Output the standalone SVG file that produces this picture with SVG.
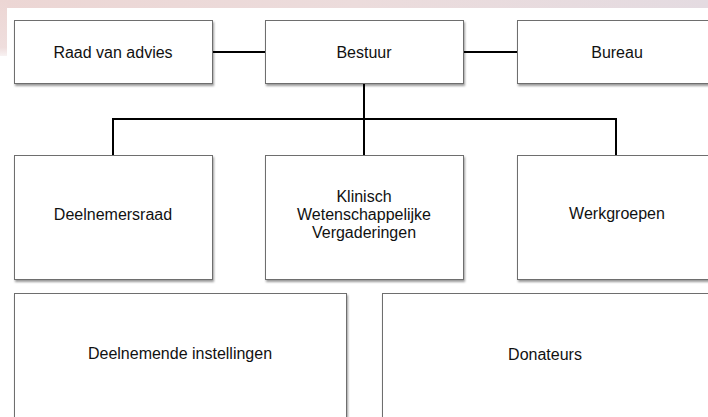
<svg xmlns="http://www.w3.org/2000/svg" width="708" height="417" viewBox="0 0 708 417">
<defs>
<linearGradient id="bg" x1="0" y1="0" x2="1" y2="0">
<stop offset="0" stop-color="#ecd6d4"/>
<stop offset="0.5" stop-color="#ecdcdc"/>
<stop offset="1" stop-color="#e4dbe1"/>
</linearGradient>
<linearGradient id="side" x1="0" y1="0" x2="0" y2="1">
<stop offset="0" stop-color="#ecd6d4"/>
<stop offset="0.85" stop-color="#efdedd"/>
<stop offset="1" stop-color="#f8f2f2"/>
</linearGradient>
<filter id="sh" x="-5%" y="-5%" width="110%" height="115%">
<feDropShadow dx="1" dy="2" stdDeviation="0.8" flood-color="#000" flood-opacity="0.4"/>
</filter>
</defs>
<style>
.box{fill:#fff;stroke:#6e6e6e;stroke-width:1;filter:url(#sh)}
.t{font-family:"Liberation Sans",Arial,sans-serif;font-size:16px;fill:#111;text-anchor:middle;dominant-baseline:central}
.c{stroke:#000;stroke-width:2;fill:none}
</style>
<rect width="708" height="417" fill="#fff"/>
<rect x="0" y="0" width="708" height="8" fill="url(#bg)"/>
<rect x="0" y="0" width="7" height="56" fill="url(#side)"/>
<g id="connectors">
<line class="c" x1="212" y1="52" x2="265" y2="52"/>
<line class="c" x1="463" y1="52" x2="517" y2="52"/>
<line class="c" x1="364" y1="84" x2="364" y2="155"/>
<polyline class="c" points="113,155 113,119 616,119 616,155"/>
</g>
<g id="raad"><rect class="box" x="14.5" y="20.5" width="198" height="63"/><text class="t" x="113" y="52">Raad van advies</text></g>
<g id="bestuur"><rect class="box" x="265.5" y="20.5" width="198" height="63"/><text class="t" x="364" y="52">Bestuur</text></g>
<g id="bureau"><rect class="box" x="517.5" y="20.5" width="198" height="63"/><text class="t" x="617" y="52">Bureau</text></g>
<g id="deelnemersraad"><rect class="box" x="14.5" y="155.5" width="198" height="124"/><text class="t" x="113" y="214">Deelnemersraad</text></g>
<g id="kwv"><rect class="box" x="265.5" y="155.5" width="198" height="124"/><text class="t" x="364" y="196">Klinisch</text><text class="t" x="364" y="214">Wetenschappelijke</text><text class="t" x="364" y="232">Vergaderingen</text></g>
<g id="werkgroepen"><rect class="box" x="517.5" y="155.5" width="198" height="124"/><text class="t" x="617" y="213">Werkgroepen</text></g>
<g id="instellingen"><rect class="box" x="14.5" y="293.5" width="332" height="140"/><text class="t" x="180" y="353">Deelnemende instellingen</text></g>
<g id="donateurs"><rect class="box" x="382.5" y="293.5" width="332" height="140"/><text class="t" x="545" y="354">Donateurs</text></g>
</svg>
